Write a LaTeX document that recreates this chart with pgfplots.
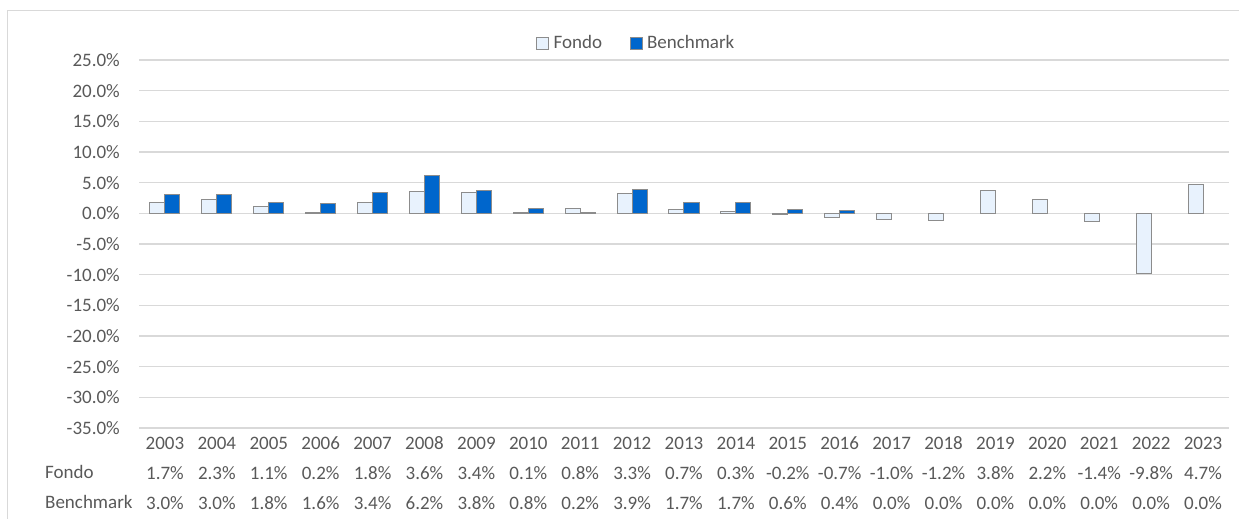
\documentclass[border=0pt]{standalone}
\usepackage{fontspec}
\setmainfont{Carlito}
\usepackage{pgfplots}
\usepackage{pgfplotstable}
\pgfplotsset{compat=1.18}
\definecolor{fondoc}{HTML}{E8F2FD}
\definecolor{benchc}{HTML}{0066CC}
\definecolor{edgec}{HTML}{8C8C8C}
\definecolor{gridc}{HTML}{D9D9D9}
\definecolor{txtc}{HTML}{595959}

\pgfplotstableread{
x year fondo bench
0 2003 1.7 3.0
1 2004 2.3 3.0
2 2005 1.1 1.8
3 2006 0.2 1.6
4 2007 1.8 3.4
5 2008 3.6 6.2
6 2009 3.4 3.8
7 2010 0.1 0.8
8 2011 0.8 0.2
9 2012 3.3 3.9
10 2013 0.7 1.7
11 2014 0.3 1.7
12 2015 -0.2 0.6
13 2016 -0.7 0.4
14 2017 -1.0 0.0
15 2018 -1.2 0.0
16 2019 3.8 0.0
17 2020 2.2 0.0
18 2021 -1.4 0.0
19 2022 -9.8 0.0
20 2023 4.7 0.0
}\data

\newcommand{\tl}[3]{\rule{0pt}{21bp}#1\\#2\\#3}

\begin{document}
\begin{tikzpicture}[x=1bp,y=1bp]
\useasboundingbox (0,0) rectangle (1239,519);
\draw[gridc, line width=1bp] (7,0) -- (7,508) -- (1239,508);
\begin{axis}[
  at={(139bp,91bp)}, anchor=south west,
  scale only axis, width=1090bp, height=368bp,
  xmin=-0.5, xmax=20.5, ymin=-35, ymax=25,
  ybar=0pt, bar width=15bp,
  axis line style={draw=none},
  tick style={draw=none},
  ymajorgrids, major grid style={gridc, line width=1.5bp},
  ytick={-35,-30,...,25},
  yticklabels={-35.0\%,-30.0\%,-25.0\%,-20.0\%,-15.0\%,-10.0\%,-5.0\%,0.0\%,5.0\%,10.0\%,15.0\%,20.0\%,25.0\%},
  yticklabel style={anchor=east, inner sep=0pt, xshift=-19bp, font=\fontsize{19bp}{23bp}\selectfont, text=txtc},
  xtick={0,...,20},
  xticklabels={
    {\tl{2003}{1.7\%}{3.0\%}},{\tl{2004}{2.3\%}{3.0\%}},{\tl{2005}{1.1\%}{1.8\%}},{\tl{2006}{0.2\%}{1.6\%}},
    {\tl{2007}{1.8\%}{3.4\%}},{\tl{2008}{3.6\%}{6.2\%}},{\tl{2009}{3.4\%}{3.8\%}},{\tl{2010}{0.1\%}{0.8\%}},
    {\tl{2011}{0.8\%}{0.2\%}},{\tl{2012}{3.3\%}{3.9\%}},{\tl{2013}{0.7\%}{1.7\%}},{\tl{2014}{0.3\%}{1.7\%}},
    {\tl{2015}{-0.2\%}{0.6\%}},{\tl{2016}{-0.7\%}{0.4\%}},{\tl{2017}{-1.0\%}{0.0\%}},{\tl{2018}{-1.2\%}{0.0\%}},
    {\tl{2019}{3.8\%}{0.0\%}},{\tl{2020}{2.2\%}{0.0\%}},{\tl{2021}{-1.4\%}{0.0\%}},{\tl{2022}{-9.8\%}{0.0\%}},
    {\tl{2023}{4.7\%}{0.0\%}}},
  xticklabel style={anchor=north, align=center, inner sep=0pt, yshift=4bp, font=\fontsize{19bp}{30bp}\selectfont, text=txtc},
  legend columns=2,
  legend style={at={(0.456,1.046)}, anchor=center, draw=none, fill=none,
    font=\fontsize{19bp}{23bp}\selectfont, text=txtc,
    /tikz/every even column/.append style={column sep=26bp},
    nodes={inner sep=1.5bp}},
  legend image code/.code={\draw[#1, line width=0.8bp] (0bp,-6bp) rectangle (12bp,6bp); \path (15bp,0bp);},
  unbounded coords=discard,
  clip=false,
]
\addplot[fill=fondoc, draw=edgec, line width=1bp] table[x=x, y=fondo] {\data};
\addlegendentry{Fondo}
\addplot[fill=benchc, draw=edgec, line width=1bp, y filter/.expression={y==0 ? nan : y}] table[x=x, y=bench] {\data};
\addlegendentry{Benchmark}
\end{axis}
\node[anchor=base west, text=txtc, font=\fontsize{19bp}{23bp}\selectfont, inner sep=0pt] at (45,40) {Fondo};
\node[anchor=base west, text=txtc, font=\fontsize{19bp}{23bp}\selectfont, inner sep=0pt] at (45,10) {Benchmark};
\end{tikzpicture}
\end{document}
